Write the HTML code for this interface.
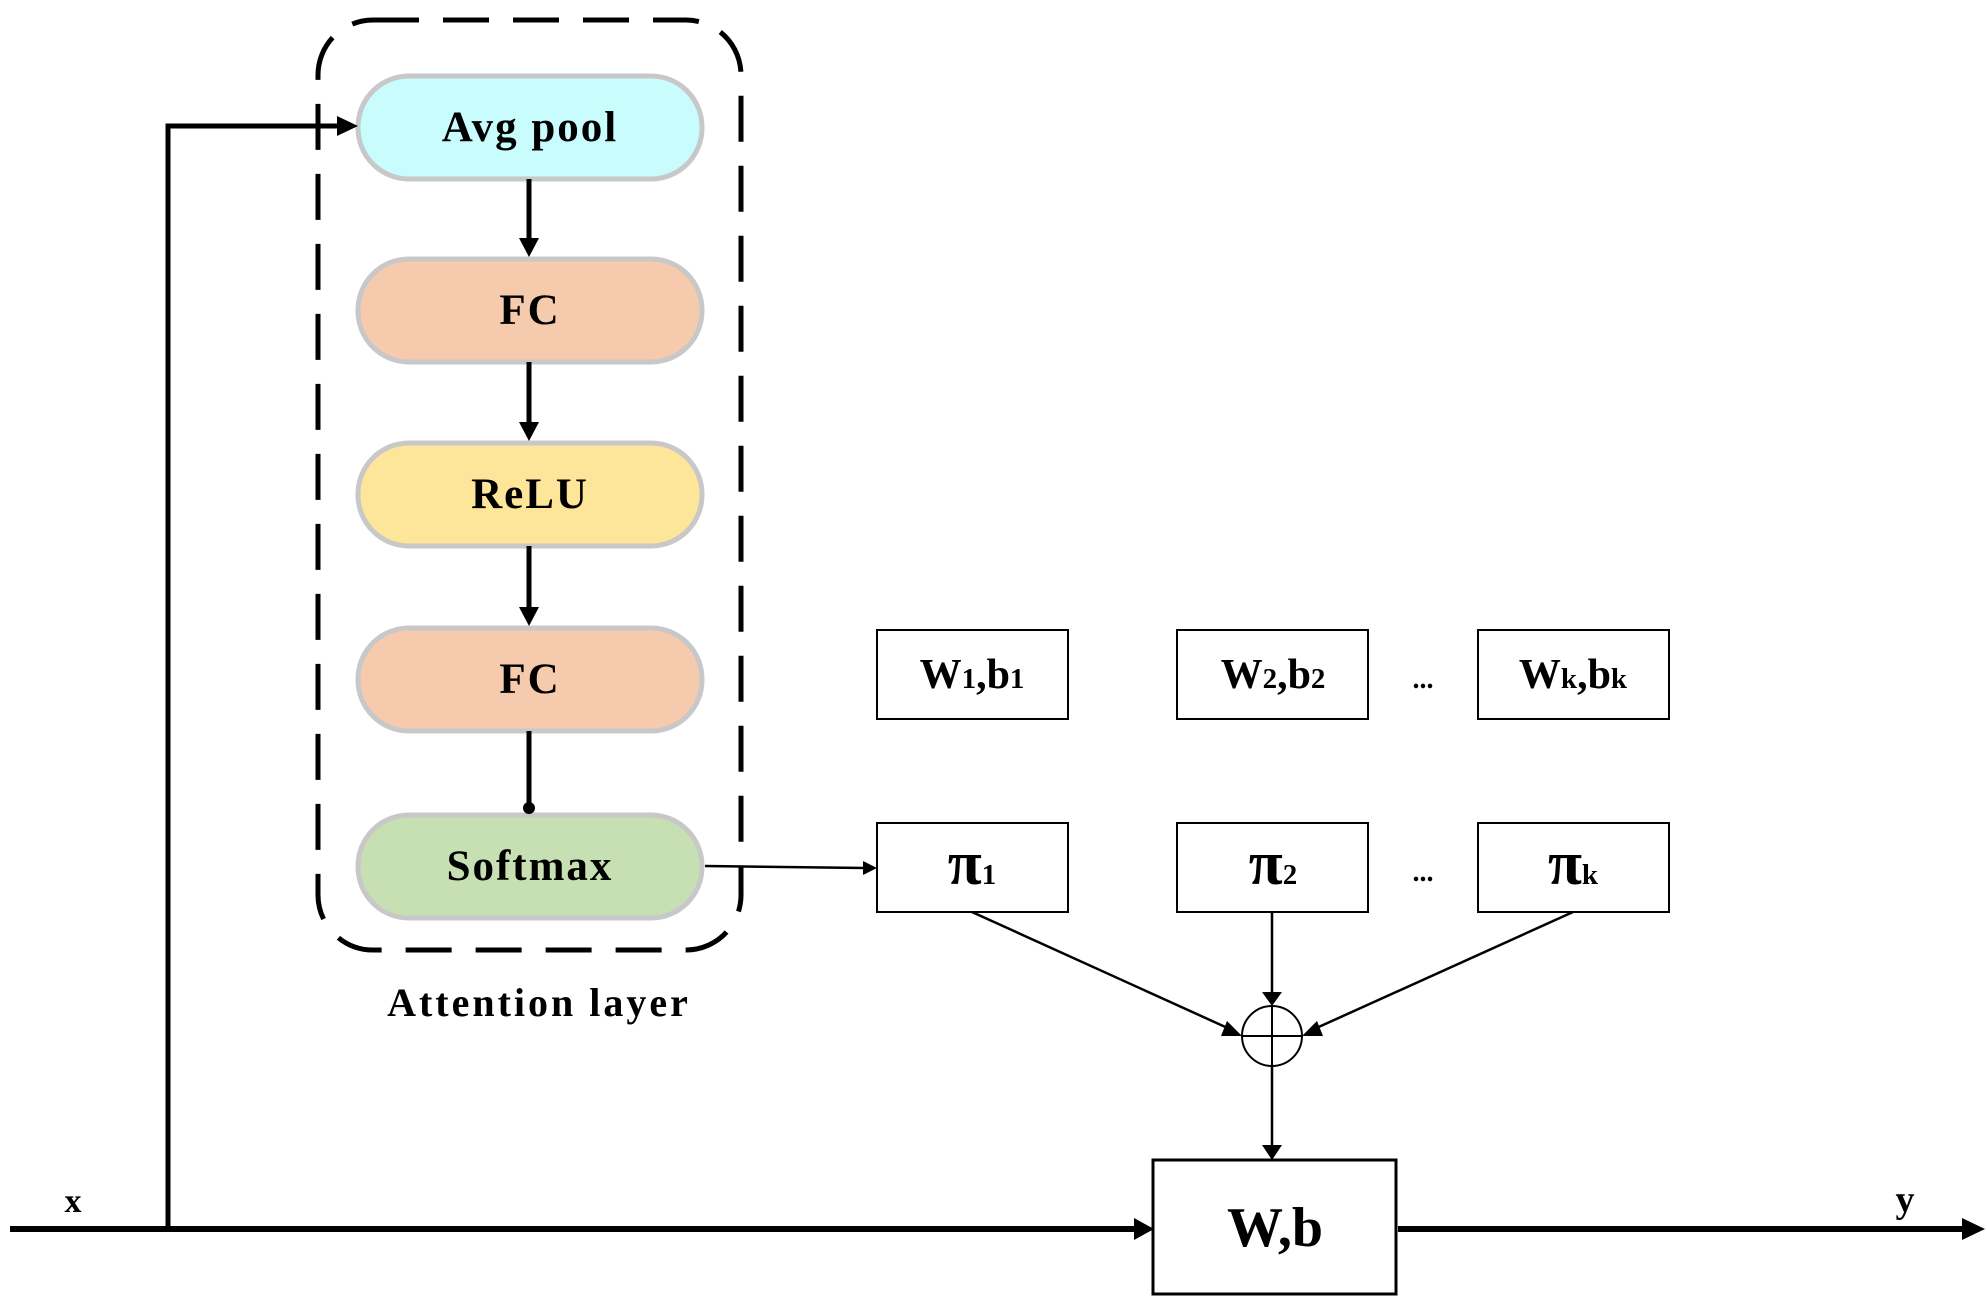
<!DOCTYPE html>
<html><head><style>
html,body{margin:0;padding:0;background:#fff;}
svg{display:block}
text{font-family:"Liberation Serif",serif;font-weight:bold;fill:#000}
</style></head><body>
<svg width="1987" height="1308" viewBox="0 0 1987 1308" xmlns="http://www.w3.org/2000/svg">
<!-- dashed attention box -->
<rect x="318" y="20" width="423" height="930" rx="55" fill="none" stroke="#000" stroke-width="5" stroke-dasharray="46,24"/>
<!-- pills -->
<g stroke="#c8c8c8" stroke-width="5">
<rect x="358" y="76" width="344" height="103" rx="51" fill="#c9fdfd"/>
<rect x="358" y="259" width="344" height="103" rx="51" fill="#f6cbad"/>
<rect x="358" y="443" width="344" height="103" rx="51" fill="#fde59a"/>
<rect x="358" y="628" width="344" height="103" rx="51" fill="#f6cbad"/>
<rect x="358" y="815" width="344" height="103" rx="51" fill="#c6e0b3"/>
</g>
<g font-size="43" text-anchor="middle" letter-spacing="2">
<text x="530" y="141">Avg pool</text>
<text x="530" y="324">FC</text>
<text x="530" y="508">ReLU</text>
<text x="530" y="693">FC</text>
<text x="530" y="880">Softmax</text>
</g>
<text x="539" y="1016" font-size="40" text-anchor="middle" letter-spacing="3">Attention layer</text>
<!-- vertical arrows -->
<g stroke="#000" stroke-width="5" fill="#000">
<line x1="529" y1="179" x2="529" y2="240"/>
<line x1="529" y1="362" x2="529" y2="424"/>
<line x1="529" y1="546" x2="529" y2="609"/>
<line x1="529" y1="731" x2="529" y2="808"/>
</g>
<path d="M519,238 L529,257 L539,238 z" fill="#000"/>
<path d="M519,422 L529,441 L539,422 z" fill="#000"/>
<path d="M519,607 L529,626 L539,607 z" fill="#000"/>
<circle cx="529" cy="808" r="6" fill="#000"/>
<!-- x feed -->
<polyline points="168,1229 168,126 340,126" fill="none" stroke="#000" stroke-width="5"/>
<path d="M337,116 L358,126 L337,136 z" fill="#000"/>
<line x1="10" y1="1229" x2="1138" y2="1229" stroke="#000" stroke-width="6"/>
<path d="M1134,1218 L1154,1229 L1134,1240 z" fill="#000"/>
<text x="73" y="1212" font-size="34" text-anchor="middle" font-family="Liberation Sans, sans-serif">x</text>
<!-- W,b box -->
<rect x="1153" y="1160" width="243" height="134" fill="#fff" stroke="#000" stroke-width="3"/>
<text x="1275" y="1246" font-size="56" text-anchor="middle">W,b</text>
<line x1="1398" y1="1229" x2="1965" y2="1229" stroke="#000" stroke-width="6"/>
<path d="M1962,1218 L1985,1229 L1962,1240 z" fill="#000"/>
<text x="1905" y="1212" font-size="38" text-anchor="middle">y</text>
<!-- W boxes -->
<g fill="#fff" stroke="#000" stroke-width="2">
<rect x="877" y="630" width="191" height="89"/>
<rect x="1177" y="630" width="191" height="89"/>
<rect x="1478" y="630" width="191" height="89"/>
<rect x="877" y="823" width="191" height="89"/>
<rect x="1177" y="823" width="191" height="89"/>
<rect x="1478" y="823" width="191" height="89"/>
</g>
<g font-size="42" text-anchor="middle">
<text x="972" y="688">W<tspan font-size="29">1</tspan>,b<tspan font-size="29">1</tspan></text>
<text x="1273" y="688">W<tspan font-size="29">2</tspan>,b<tspan font-size="29">2</tspan></text>
<text x="1573" y="688">W<tspan font-size="29">k</tspan>,b<tspan font-size="29">k</tspan></text>
<text x="972" y="884"><tspan font-size="62">π</tspan><tspan font-size="29">1</tspan></text>
<text x="1273" y="884"><tspan font-size="62">π</tspan><tspan font-size="29">2</tspan></text>
<text x="1573" y="884"><tspan font-size="62">π</tspan><tspan font-size="29">k</tspan></text>
<text x="1423" y="688" font-size="28">...</text>
<text x="1423" y="881" font-size="28">...</text>
</g>
<!-- softmax to pi1 -->
<line x1="705" y1="866" x2="865" y2="868" stroke="#000" stroke-width="2.5"/>
<path d="M863,861 L877,868 L863,875 z" fill="#000"/>
<!-- sum circle -->
<circle cx="1272" cy="1036" r="30" fill="none" stroke="#000" stroke-width="2"/>
<line x1="1242" y1="1036" x2="1302" y2="1036" stroke="#000" stroke-width="2"/>
<line x1="1272" y1="1006" x2="1272" y2="1066" stroke="#000" stroke-width="2"/>
<g stroke="#000" stroke-width="2.5">
<line x1="972" y1="912" x2="1232" y2="1030"/>
<line x1="1272" y1="912" x2="1272" y2="995"/>
<line x1="1573" y1="912" x2="1312" y2="1030"/>
<line x1="1272" y1="1066" x2="1272" y2="1147"/>
</g>
<path d="M1262,992 L1272,1006 L1282,992 z" fill="#000"/>
<path d="M1262,1145 L1272,1160 L1282,1145 z" fill="#000"/>
<path d="M1227,1021 L1242,1036 L1221,1036 z" fill="#000"/>
<path d="M1317,1021 L1302,1036 L1323,1036 z" fill="#000"/>
</svg>
</body></html>
